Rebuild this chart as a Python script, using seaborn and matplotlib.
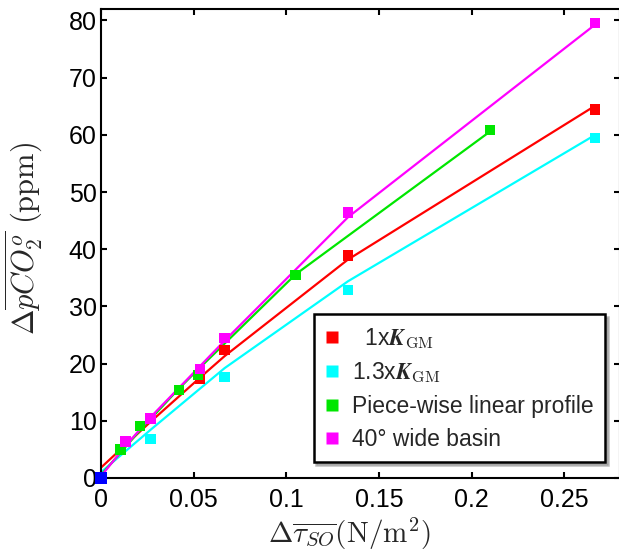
import matplotlib
matplotlib.use("Agg")
import matplotlib.pyplot as plt
import seaborn as sns
from matplotlib.lines import Line2D

# Wind-stress change (N/m^2) and resulting pCO2 change (ppm) for each experiment
red_x = [0.0267, 0.0533, 0.0667, 0.1333, 0.2667]
red_y = [10.3, 17.4, 22.4, 38.9, 64.4]
red_fit_x = [0.0, 0.0133, 0.0267, 0.0533, 0.0667, 0.1333, 0.2667]
red_fit_y = [1.8, 5.8, 9.8, 17.5, 21.3, 38.2, 65.1]

cyan_x = [0.0267, 0.0667, 0.1333, 0.2667]
cyan_y = [6.8, 17.6, 32.9, 59.4]
cyan_fit_x = [0.0, 0.0267, 0.0667, 0.1333, 0.2667]
cyan_fit_y = [1.0, 8.4, 19.2, 34.4, 60.0]

green_x = [0.0105, 0.021, 0.042, 0.0525, 0.105, 0.21]
green_y = [5.0, 9.1, 15.4, 18.0, 35.5, 60.8]
green_fit_x = [0.0, 0.0105, 0.021, 0.042, 0.0525, 0.105, 0.21]
green_fit_y = [0.5, 4.4, 8.3, 15.6, 19.0, 35.6, 60.6]

magenta_x = [0.0133, 0.0267, 0.0533, 0.0667, 0.1333, 0.2667]
magenta_y = [6.4, 10.4, 19.0, 24.5, 46.4, 79.6]
magenta_fit_x = [0.0, 0.0133, 0.0267, 0.0533, 0.0667, 0.1333, 0.2667]
magenta_fit_y = [0.3, 5.6, 10.6, 19.5, 24.0, 45.6, 79.3]

origin_x = [0.0]
origin_y = [0.0]

labels = [r"  1x$\boldsymbol{K}_{\rm GM}$", r"1.3x$\boldsymbol{K}_{\rm GM}$",
          "Piece-wise linear profile", "40° wide basin"]
colors = ["#ff0000", "#00ffff", "#00e600", "#ff00ff"]

x_ticks = [0, 0.05, 0.1, 0.15, 0.2, 0.25]
x_tick_labels = ["0", "0.05", "0.1", "0.15", "0.2", "0.25"]
y_ticks = [0, 10, 20, 30, 40, 50, 60, 70, 80]

sns.set_theme(style="ticks")
plt.rcParams["font.family"] = ["Liberation Sans", "DejaVu Sans"]
plt.rcParams["mathtext.fontset"] = "cm"

fig = plt.figure(figsize=(6.19, 5.51), dpi=100)
ax = fig.add_axes([0.163, 0.1325, 0.8386, 0.8512])

series = [
    (red_x, red_y, red_fit_x, red_fit_y),
    (cyan_x, cyan_y, cyan_fit_x, cyan_fit_y),
    (green_x, green_y, green_fit_x, green_fit_y),
    (magenta_x, magenta_y, magenta_fit_x, magenta_fit_y),
]

# fitted curves
for (_, _, fx, fy), c in zip(series, colors):
    sns.lineplot(x=fx, y=fy, color=c, linewidth=1.6, ax=ax, zorder=2,
                 sort=False, estimator=None)

# model results
for (px, py, _, _), c in zip(series, colors):
    sns.scatterplot(x=px, y=py, color=c, marker="s", s=55, edgecolor="none",
                    linewidth=0, ax=ax, zorder=3)
sns.scatterplot(x=origin_x, y=origin_y, color="#0000ff", marker="s", s=70,
                edgecolor="none", linewidth=0, ax=ax, zorder=4, clip_on=False)

ax.set_xlim(0, 0.28)
ax.set_ylim(0, 82)
ax.set_xticks(x_ticks)
ax.set_xticklabels(x_tick_labels)
ax.set_yticks(y_ticks)

for s in ax.spines.values():
    s.set_linewidth(1.5)
    s.set_color("black")
    s.set_visible(True)

ax.tick_params(axis="both", which="both", direction="in", length=4, width=1.5,
               top=True, right=True, labelsize=18, colors="black")
ax.tick_params(axis="x", pad=7)
ax.tick_params(axis="y", pad=3)

ax.set_xlabel(r"$\Delta\overline{\tau_{SO}}(\mathrm{N/m^2})$", fontsize=21)
ax.set_ylabel(r"$\Delta\overline{pCO_2^o}\ (\mathrm{ppm})$", fontsize=22)
ax.xaxis.set_label_coords(0.478, -0.081)
ax.yaxis.set_label_coords(-0.108, 0.51)

handles = [Line2D([], [], linestyle="none", marker="s", markersize=8,
                  markerfacecolor=c, markeredgecolor="none") for c in colors]
leg = ax.legend(handles, labels, loc="lower right",
                bbox_to_anchor=(0.971, 0.034), bbox_transform=ax.transAxes,
                borderaxespad=0, fontsize=16.5, frameon=True, fancybox=False,
                shadow={"color": "0.5", "alpha": 0.5}, handlelength=0.6,
                handletextpad=0.57, labelspacing=0.42, borderpad=0.5)
frame = leg.get_frame()
frame.set_edgecolor("black")
frame.set_linewidth(1.8)
frame.set_facecolor("white")
frame.set_alpha(1)

fig.savefig("out.png", dpi=100)
